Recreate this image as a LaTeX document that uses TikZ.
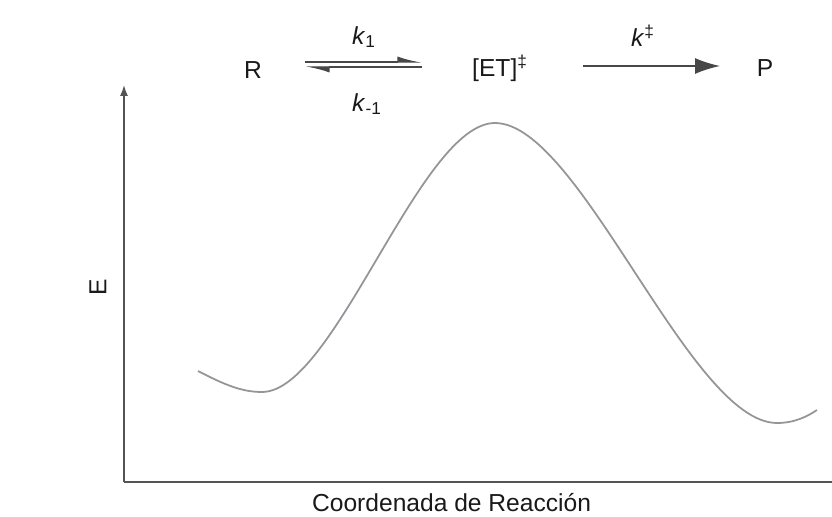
\documentclass[tikz,border=0pt]{standalone}
\usepackage{fontspec}
\setmainfont{Liberation Sans}
\usetikzlibrary{arrows.meta}
\definecolor{AxisGray}{rgb}{0.33,0.33,0.33}
\definecolor{CurveGray}{rgb}{0.58,0.58,0.60}
\definecolor{TextDark}{rgb}{0.1,0.1,0.1}

\begin{document}
\begin{tikzpicture}[
    x=0.02cm, y=-0.02cm,
    font=\fontsize{14}{16}\selectfont,
    species/.style={text=TextDark, inner sep=1pt},
    rate/.style={text=TextDark, inner sep=1pt},
    axis/.style={draw=AxisGray, line width=0.8pt},
    harp/.style={draw=TextDark!80, line width=0.7pt},
]
\useasboundingbox (0,0) rectangle (832,517);

% ---- esquema de reaccion ----
\node[species] (R) at (253,70) {R};
\node[species] (ET) at (500,68) {[ET]\textsuperscript{‡}};
\node[species] (P) at (765,68) {P};
\coordinate (eqA) at (305,62);
\coordinate (eqB) at (422,62);
\coordinate (eqC) at (422,67);
\coordinate (eqD) at (305,67);
\draw[harp, -{Latex[harpoon, length=4.2mm, width=2.2mm]}] (eqA) -- (eqB);
\draw[harp, -{Latex[harpoon, length=4.2mm, width=2.2mm]}] (eqC) -- (eqD);
\node[rate] (k1) at (364,37) {\textit{k}\textsubscript{1}};
\node[rate] (km1) at (367,104) {\textit{k}\textsubscript{-1}};
\coordinate (fwA) at (583,66);
\coordinate (fwB) at (720,66);
\draw[harp, line width=0.9pt, -{Latex[length=5mm, width=3.2mm]}] (fwA) -- (fwB);
\node[rate] (kd) at (643,36) {\textit{k}\textsuperscript{‡}};

% ---- ejes ----
\coordinate (O) at (124,482);
\coordinate (ytop) at (124,85);
\coordinate (xend) at (832,482);
\draw[axis, -{Latex[length=2.2mm, width=1.6mm]}] (O) -- (ytop);
\draw[axis] (O) -- (xend);
\node[species, rotate=90] (E) at (98,287) {E};
\node[species, anchor=west] (xlab) at (310,503) {Coordenada de Reacción};

% ---- perfil de energia ----
\coordinate (s0) at (198,371);
\coordinate (minR) at (262,392);
\coordinate (ts) at (495,123);
\coordinate (minP) at (777,423);
\coordinate (s1) at (817,410);
\draw[CurveGray, line width=1pt]
    (s0) .. controls (225,385) and (242,392) .. (minR)
         .. controls (335,392) and (420,123) .. (ts)
         .. controls (580,123) and (690,423) .. (minP)
         .. controls (795,423) and (808,416) .. (s1);

\end{tikzpicture}
\end{document}
